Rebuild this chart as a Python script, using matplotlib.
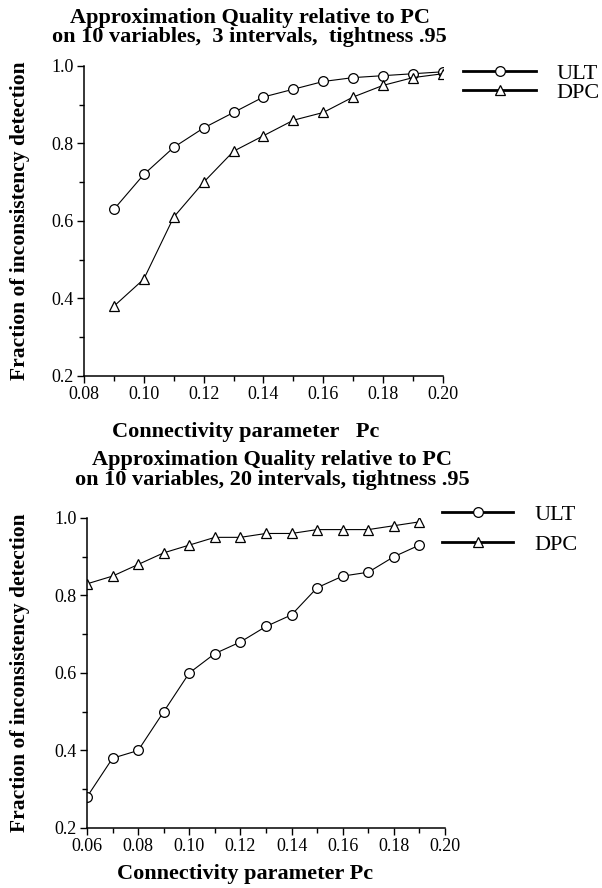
import matplotlib
matplotlib.use("Agg")
import matplotlib.pyplot as plt
from matplotlib.lines import Line2D
from matplotlib.ticker import MultipleLocator, FormatStrFormatter

plt.rcParams['font.family'] = ['Liberation Serif', 'DejaVu Serif']

# top chart: 3 intervals
pc_top = [0.09, 0.10, 0.11, 0.12, 0.13, 0.14, 0.15, 0.16, 0.17, 0.18, 0.19, 0.20]
ult_top = [0.63, 0.72, 0.79, 0.84, 0.88, 0.92, 0.94, 0.96, 0.97, 0.975, 0.98, 0.985]
dpc_top = [0.38, 0.45, 0.61, 0.70, 0.78, 0.82, 0.86, 0.88, 0.92, 0.95, 0.97, 0.98]

# bottom chart: 20 intervals
pc_bot = [0.06, 0.07, 0.08, 0.09, 0.10, 0.11, 0.12, 0.13, 0.14, 0.15, 0.16, 0.17, 0.18, 0.19]
ult_bot = [0.28, 0.38, 0.40, 0.50, 0.60, 0.65, 0.68, 0.72, 0.75, 0.82, 0.85, 0.86, 0.90, 0.93]
dpc_bot = [0.83, 0.85, 0.88, 0.91, 0.93, 0.95, 0.95, 0.96, 0.96, 0.97, 0.97, 0.97, 0.98, 0.99]

fig = plt.figure(figsize=(6.02, 8.88), dpi=100)
ax1 = fig.add_axes([0.1395, 0.5766, 0.5963, 0.3491])
ax2 = fig.add_axes([0.1445, 0.0676, 0.5947, 0.3491])

mk = dict(color='black', lw=0.8, markersize=7, markerfacecolor='white',
          markeredgecolor='black', markeredgewidth=0.9)


def style(ax, xmin):
    ax.set_xlim(xmin, 0.20)
    ax.set_ylim(0.2, 1.0)
    ax.spines['top'].set_visible(False)
    ax.spines['right'].set_visible(False)
    ax.spines['left'].set_linewidth(1.1)
    ax.spines['bottom'].set_linewidth(1.1)
    ax.xaxis.set_major_locator(MultipleLocator(0.02))
    ax.xaxis.set_minor_locator(MultipleLocator(0.01))
    ax.yaxis.set_major_locator(MultipleLocator(0.2))
    ax.yaxis.set_minor_locator(MultipleLocator(0.1))
    ax.xaxis.set_major_formatter(FormatStrFormatter('%.2f'))
    ax.yaxis.set_major_formatter(FormatStrFormatter('%.1f'))
    ax.tick_params(which='major', length=5, width=1, labelsize=13, pad=2.5)
    ax.tick_params(which='minor', length=3.5, width=1)
    ax.set_ylabel('Fraction of inconsistency detection', fontsize=15.5, fontweight='bold', va='center')


# top plot
ax1.plot(pc_top, ult_top, marker='o', **mk)
ax1.plot(pc_top, dpc_top, marker='^', **mk)
style(ax1, 0.08)
ax1.set_xlabel('Connectivity parameter   Pc', fontsize=16, fontweight='bold')
ax1.xaxis.set_label_coords(0.451, -0.148)
ax1.yaxis.set_label_coords(-0.178, 0.5)

# bottom plot
ax2.plot(pc_bot, ult_bot, marker='o', **mk)
ax2.plot(pc_bot, dpc_bot, marker='^', **mk)
style(ax2, 0.06)
ax2.set_xlabel('Connectivity parameter Pc', fontsize=16, fontweight='bold')
ax2.xaxis.set_label_coords(0.441, -0.116)
ax2.yaxis.set_label_coords(-0.187, 0.5)

fig.text(0.415, 1 - 27.5 / 888, 'Approximation Quality relative to PC\non 10 variables,  3 intervals,  tightness .95',
         ha='center', va='center', fontsize=16, fontweight='bold', linespacing=0.95)
fig.text(0.452, 1 - 470 / 888, 'Approximation Quality relative to PC\non 10 variables, 20 intervals, tightness .95',
         ha='center', va='center', fontsize=16, fontweight='bold', linespacing=1.0)

hd = [Line2D([], [], color='black', lw=2, marker='o', markersize=7, markerfacecolor='white', markeredgewidth=0.9),
      Line2D([], [], color='black', lw=2, marker='^', markersize=7, markerfacecolor='white', markeredgewidth=0.9)]

ax1.legend(hd, ['ULT', 'DPC'], loc='upper left', bbox_to_anchor=(1.056, 1.009), frameon=False,
           fontsize=16, handlelength=3.3, handletextpad=0.9, labelspacing=-0.08,
           borderpad=0, borderaxespad=0)
ax2.legend(hd, ['ULT', 'DPC'], loc='upper left', bbox_to_anchor=(0.992, 1.044), frameon=False,
           fontsize=16, handlelength=3.2, handletextpad=0.95, labelspacing=0.43,
           borderpad=0, borderaxespad=0)

fig.savefig('out.png', dpi=100)
